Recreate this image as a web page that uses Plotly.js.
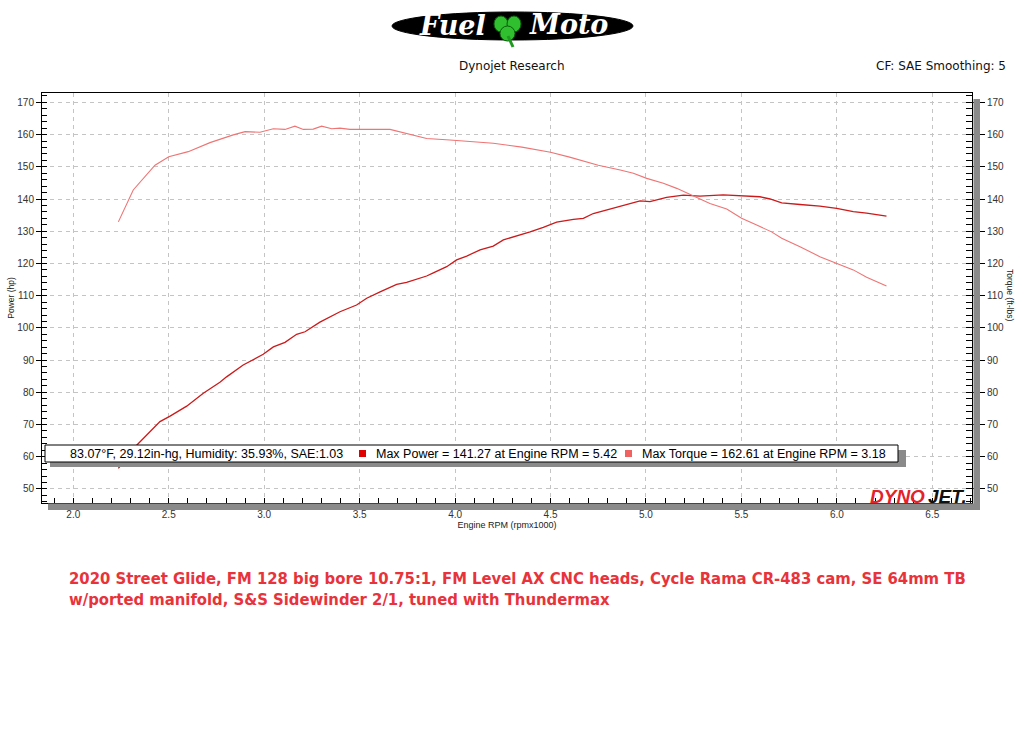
<!DOCTYPE html>
<html>
<head>
<meta charset="utf-8">
<script src="https://cdn.plot.ly/plotly-3.0.1.min.js"></script>
<style>html,body{margin:0;padding:0;background:#fff;}#chart{width:1018px;height:754px;}</style>
</head>
<body>
<div id="chart"></div>
<script>
// ---- data ----
const rpmPower = [2.236,2.332,2.454,2.507,2.594,2.681,2.768,2.803,2.890,2.995,3.048,3.109,3.170,3.214,3.292,3.397,3.484,3.537,3.607,3.694,3.746,3.799,3.851,3.886,3.956,4.008,4.061,4.131,4.200,4.253,4.340,4.393,4.462,4.532,4.620,4.672,4.724,4.794,4.864,4.969,5.021,5.108,5.196,5.283,5.405,5.457,5.597,5.650,5.711,5.807,5.911,5.999,6.086,6.156,6.260];
const power    = [56.4,63.6,70.9,72.6,75.7,79.7,83.1,84.8,88.5,91.8,94.1,95.5,98.0,98.8,101.8,105.0,107.1,109.2,111.2,113.5,114.1,115.2,116.1,117.1,119.0,121.1,122.3,124.2,125.4,127.3,128.8,129.8,131.2,132.8,133.7,134.0,135.5,136.6,137.8,139.4,139.2,140.5,141.2,140.9,141.3,141.1,140.7,140.0,138.8,138.3,137.8,137.1,136.1,135.6,134.7];
const rpmTorque = [2.236,2.314,2.428,2.500,2.602,2.716,2.838,2.900,2.978,3.048,3.109,3.161,3.205,3.257,3.301,3.354,3.397,3.449,3.659,3.764,3.851,3.973,4.200,4.350,4.500,4.600,4.750,4.865,4.934,5.004,5.091,5.161,5.248,5.335,5.423,5.501,5.580,5.658,5.711,5.807,5.911,5.999,6.086,6.156,6.260];
const torque    = [132.9,142.8,150.5,153.1,154.7,157.5,159.9,160.9,160.7,161.8,161.6,162.6,161.6,161.7,162.6,161.8,162.0,161.6,161.6,160.1,158.8,158.3,157.3,156.1,154.5,153.0,150.5,149.0,148.0,146.4,144.9,143.3,140.9,138.6,136.9,134.0,131.9,129.8,127.8,125.2,122.1,120.0,118.0,115.7,113.0];
const maxPower = 141.27, maxPowerRpm = 5.42;
const maxTorque = 162.61, maxTorqueRpm = 3.18;
const conditions = "83.07°F, 29.12in-hg, Humidity: 35.93%, SAE:1.03";
const headerCenter = "Dynojet Research";
const headerRight = "CF: SAE Smoothing: 5";
const footnote = "2020 Street Glide, FM 128 big bore 10.75:1, FM Level AX CNC heads, Cycle Rama CR-483 cam, SE 64mm TB<br>w/ported manifold, S&amp;S Sidewinder 2/1, tuned with Thundermax";

// ---- geometry helpers (pixel -> paper) ----
const W = 1018, H = 754, ML = 42, MR = 46, MT = 93, MB = 251;
const PW = W - ML - MR, PH = H - MT - MB;
const px = x => (x - ML) / PW;
const py = y => (H - MB - y) / PH;

const sansT = "Liberation Sans, Arial, sans-serif";
const sansH = "DejaVu Sans, Verdana, sans-serif";
const cPower = "#cc1a1a", cTorque = "#ef7474";

const traces = [
  {x: rpmPower, y: power, name: "Power (hp)", type: "scatter", mode: "lines",
   line: {color: cPower, width: 1.3}, yaxis: "y", hoverinfo: "x+y"},
  {x: rpmTorque, y: torque, name: "Torque (ft-lbs)", type: "scatter", mode: "lines",
   line: {color: cTorque, width: 1.1}, yaxis: "y2", hoverinfo: "x+y"}
];

const yRange = [45.65, 172.9];
const tickFont = {family: sansT, size: 10, color: "#333"};

const rect = (x0, y0, x1, y1, fill, line) => ({type: "rect", xref: "paper", yref: "paper",
  x0: px(x0), x1: px(x1), y0: py(y1), y1: py(y0), fillcolor: fill,
  line: line ? {color: line, width: 1} : {width: 0}, layer: "above"});

const shapes = [
  // chart drop shadow
  rect(48, 503.5, 980, 510, "#8a8a8a"),
  rect(973.5, 99, 980, 510, "#8a8a8a"),
  // legend box
  rect(50, 450, 906, 467, "#8a8a8a"),
  rect(45, 445, 898, 462, "#ffffff", "#000000"),
  rect(359, 450, 366, 457, "#e00000"),
  rect(625, 450, 632, 457, "#f06262"),
  // Fuel Moto logo (approximation)
  {type: "circle", xref: "paper", yref: "paper", x0: px(392), x1: px(633), y0: py(40), y1: py(12),
   fillcolor: "#000", line: {color: "#000", width: 1}, layer: "above"},
  {type: "circle", xref: "paper", yref: "paper", x0: px(494), x1: px(508), y0: py(32), y1: py(16),
   fillcolor: "#2fbf2f", line: {color: "#0b5e0b", width: 1}, layer: "above"},
  {type: "circle", xref: "paper", yref: "paper", x0: px(507), x1: px(521), y0: py(32), y1: py(16),
   fillcolor: "#2fbf2f", line: {color: "#0b5e0b", width: 1}, layer: "above"},
  {type: "circle", xref: "paper", yref: "paper", x0: px(500), x1: px(515), y0: py(41), y1: py(26),
   fillcolor: "#2fbf2f", line: {color: "#0b5e0b", width: 1}, layer: "above"},
  {type: "line", xref: "paper", yref: "paper", x0: px(508), x1: px(513), y0: py(36), y1: py(47),
   line: {color: "#1f9a1f", width: 3}, layer: "above"}
];

const ann = (text, x, y, opts) => Object.assign({text: text, xref: "paper", yref: "paper",
  x: px(x), y: py(y), showarrow: false, xanchor: "left", yanchor: "middle"}, opts || {});

const annotations = [
  ann("Fuel", 452, 25, {xanchor: "center", font: {family: "DejaVu Serif, serif", size: 27, color: "#fff", weight: "bold", style: "italic"}}),
  ann("Moto", 568, 24, {xanchor: "center", font: {family: "DejaVu Serif, serif", size: 27, color: "#fff", weight: "bold", style: "italic"}}),
  ann(headerCenter, 511.5, 66, {xanchor: "center", font: {family: sansH, size: 12, color: "#111"}}),
  ann(headerRight, 1008, 66, {xanchor: "right", font: {family: sansH, size: 12, color: "#111"}}),
  ann(conditions, 68, 453.5, {font: {family: sansT, size: 12.5, color: "#000"}}),
  ann("Max Power = " + maxPower.toFixed(2) + " at Engine RPM = " + maxPowerRpm.toFixed(2), 374, 453.5, {font: {family: sansT, size: 12.5, color: "#000"}}),
  ann("Max Torque = " + maxTorque.toFixed(2) + " at Engine RPM = " + maxTorqueRpm.toFixed(2), 640, 453.5, {font: {family: sansT, size: 12.5, color: "#000"}}),
  ann("Torque (ft-lbs)", 1010, 296, {xanchor: "center", textangle: 90, font: {family: sansT, size: 8.5, color: "#222"}}),
  ann("DYNO", 927, 496, {xanchor: "right", font: {family: sansT, size: 19, color: "#e4222a", weight: "bold", style: "italic"}}),
  ann("JET.", 926, 496, {xanchor: "left", font: {family: sansT, size: 19, color: "#111", weight: "bold", style: "italic"}}),
  ann(footnote, 67, 588.5, {align: "left", font: {family: "DejaVu Sans Condensed, Liberation Sans, Arial, sans-serif", size: 16.5, color: "#e8333b", weight: "bold"}})
];

const layout = {
  width: W, height: H,
  margin: {l: ML, r: MR, t: MT, b: MB, pad: 0},
  paper_bgcolor: "#fff", plot_bgcolor: "#fff",
  showlegend: false,
  font: {family: sansT, color: "#222"},
  xaxis: {
    range: [1.836, 6.708], tick0: 2.0, dtick: 0.5, tickformat: ".1f",
    showline: true, linecolor: "#000", linewidth: 1, mirror: true,
    ticks: "inside", ticklen: 5, tickcolor: "#000",
    minor: {ticks: "inside", ticklen: 5, dtick: 0.1, tick0: 2.0, tickcolor: "#000", showgrid: false},
    showgrid: true, gridcolor: "#c4c4c4", griddash: "4px,4px", gridwidth: 1,
    zeroline: false, tickfont: tickFont, ticklabelstandoff: 2,
    title: {text: "Engine RPM (rpmx1000)", font: {family: sansT, size: 9, color: "#222"}, standoff: 2}
  },
  yaxis: {
    range: yRange, tick0: 50, dtick: 10,
    showline: true, linecolor: "#000", linewidth: 1, mirror: true,
    ticks: "outside", ticklen: 5, tickcolor: "#000",
    minor: {ticks: "inside", ticklen: 5, dtick: 2, tick0: 50, tickcolor: "#000", showgrid: false},
    showgrid: true, gridcolor: "#c4c4c4", griddash: "4px,4px", gridwidth: 1,
    zeroline: false, tickfont: tickFont,
    title: {text: "Power (hp)", font: {family: sansT, size: 8.5, color: "#222"}}
  },
  yaxis2: {
    range: yRange, tick0: 50, dtick: 10, overlaying: "y", side: "right",
    showline: true, linecolor: "#000", linewidth: 1,
    ticks: "outside", ticklen: 12, tickcolor: "#000",
    minor: {ticks: "inside", ticklen: 6, dtick: 2, tick0: 50, tickcolor: "#000", showgrid: false},
    showgrid: false, zeroline: false, tickfont: tickFont
  },
  shapes: shapes,
  annotations: annotations
};

Plotly.newPlot("chart", traces, layout, {staticPlot: true, displayModeBar: false});
</script>
</body>
</html>
